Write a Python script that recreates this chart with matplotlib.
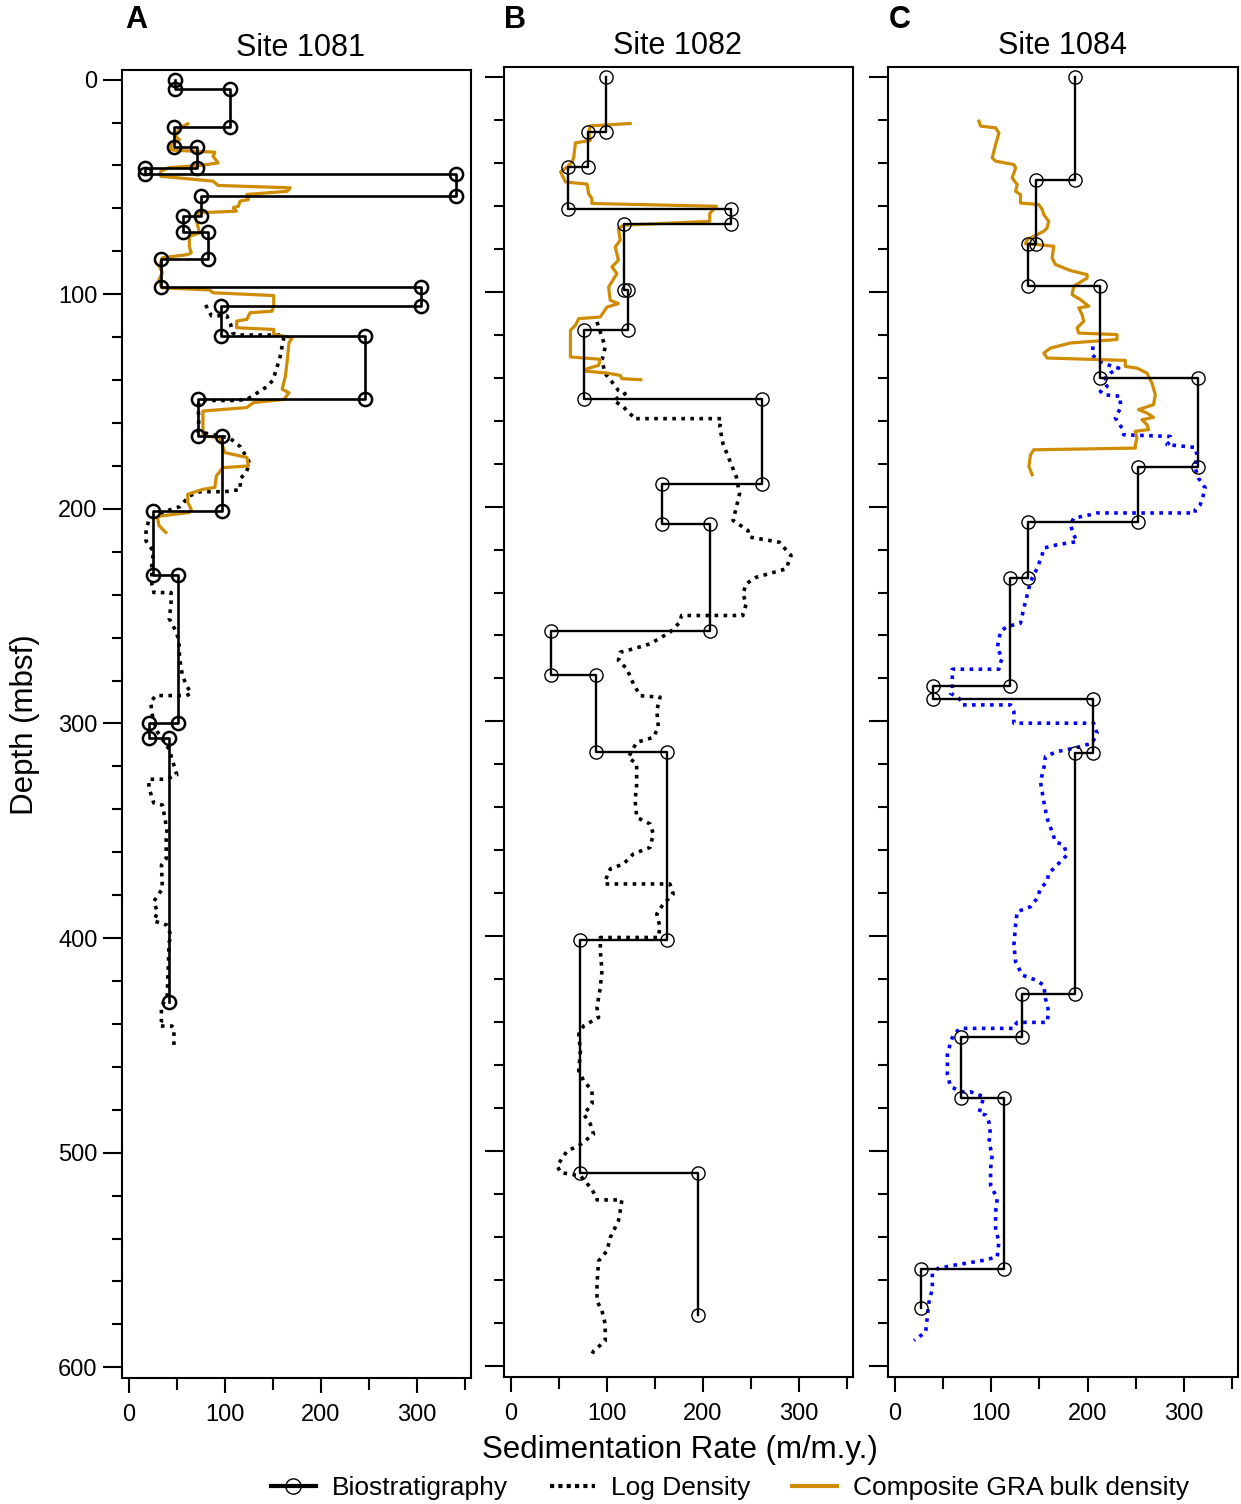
import matplotlib
matplotlib.use("Agg")
import matplotlib.pyplot as plt
from matplotlib.lines import Line2D

plt.rcParams['font.family'] = ['Liberation Sans', 'DejaVu Sans']

# ---------------- DATA ----------------
titles = ["Site 1081", "Site 1082", "Site 1084"]
letters = ["A", "B", "C"]
x_label = "Sedimentation Rate (m/m.y.)"
y_label = "Depth (mbsf)"
legend_labels = ["Biostratigraphy", "Log Density", "Composite GRA bulk density"]

# Biostratigraphy: interval boundaries (mbsf) and rate in each interval (m/m.y.)
bio_a_bounds = [0, 4.5, 22, 31.3, 41, 44, 54, 63.6, 71.2, 83.5, 96.7, 105.7, 119.6,
                149, 166.2, 201, 231, 300, 306.8, 430]
bio_a_rates = [48, 105, 47, 70.5, 16.5, 340, 75.5, 56, 82, 34, 304.5, 95.5, 245.6,
               72.3, 97, 25.6, 51, 21, 41.4]

bio_b_bounds = [0, 25.7, 42, 61.4, 68.4, 99.4, 117.7, 149.8, 189.4, 208, 258.1, 278.2,
                314, 401.5, 509.9, 576]
bio_b_rates = [99.4, 80.4, 59.7, 228.8, 117.3, 121.8, 76.6, 261.2, 157, 207, 41.4, 88.3,
               162.2, 72.5, 195]

bio_c_bounds = [0, 48.3, 77.8, 97.2, 140, 181.8, 207.3, 233.3, 283.4, 289.7, 314.5, 427,
                446.7, 475.4, 554.6, 572.7]
bio_c_rates = [187.4, 146.7, 138, 213.3, 315, 252, 138, 119.4, 39.7, 205.3, 186.6, 131.5,
               68.3, 113.2, 26.9]

# Log density derived rates
log_a_depth = [105, 110, 110, 114, 118, 119, 119, 121, 130, 140, 143, 149, 149.5, 149.5, 152,
               158, 164, 167, 171, 177, 179, 183, 186, 191, 192, 192, 194, 199, 201, 205, 210,
               215, 220, 225, 231, 235, 238, 239, 239, 245, 251, 257, 261, 270, 278, 283, 286,
               287, 287, 290, 295, 299, 304, 312, 318, 324, 326, 326, 330, 337, 338, 345, 351,
               354, 363, 366, 377, 383, 388, 392, 394, 399, 402, 415, 427, 432, 439, 441, 441,
               442, 450]
log_a_rate = [80, 86, 102, 106, 108, 112, 161, 161, 157, 150, 144, 123, 110, 74, 72,
              73, 72, 105, 116, 124, 126, 122, 116, 116, 100, 74, 63, 53, 39, 21, 18,
              18, 26, 24, 24, 24, 26, 26, 44, 44, 42, 49, 52, 53, 56, 61, 65,
              60, 28, 23, 24, 26, 30, 42, 46, 50, 39, 21, 21, 26, 35, 38, 40,
              39, 39, 34, 35, 26, 30, 26, 40, 44, 42, 41, 40, 34, 34, 32, 45,
              47, 47]

log_b_depth = [114.1, 121.1, 125.8, 132, 138.2, 142, 146, 147.5, 150.6, 153.7, 158.4, 159.1,
               159.1, 163, 170.8, 178.5, 186.3, 194, 200.3, 206.5, 211.1, 214.2, 216.6, 222,
               222.8, 229, 232.9, 235.9, 240.6, 245.3, 249.9, 250.7, 250.7, 253.8, 258.5,
               263.9, 266.2, 267.8, 271.6, 275.5, 282.5, 288, 288.7, 294.9, 302.7, 307.4,
               309.7, 316.7, 319.8, 329.1, 336.8, 344.6, 347.7, 352.3, 358.6, 361.6, 366.3,
               368.6, 374, 375.6, 375.6, 380.3, 384.9, 389.6, 395.8, 399.7, 400.5, 400.5,
               406.7, 416, 423.7, 433, 437.7, 441.6, 445.5, 453.3, 462.5, 467.2, 471.8, 478,
               482.7, 487.3, 492, 497.4, 499.8, 506.7, 509.9, 511.4, 516.8, 521.5, 522.6,
               522.6, 527.7, 532.4, 540.1, 546.3, 551, 561.8, 569.6, 574.2, 580.4, 588.2,
               592.9, 596]
log_b_rate = [89.7, 94.9, 98.3, 94.9, 98.3, 105.3, 112, 119, 107, 117.3, 127.6, 127.6,
              219, 217.4, 220.8, 227.7, 234.7, 238, 234.7, 231.2, 246.7, 248.4, 279.5, 289.9,
              291.6, 286.4, 255.4, 245, 241.5, 245, 241.5, 241.5, 177.7, 176, 165.6,
              144.9, 127.6, 113.9, 112, 120.7, 127.6, 134.6, 155.3, 151.9, 153.6, 148.3,
              131, 122.3, 131, 131, 129.4, 131, 144.9, 148.3, 144.9, 127.6, 117.3,
              103.5, 98.3, 98.3, 165.6, 169, 158.7, 151.9, 155.3, 153.6, 153.6, 93.2,
              93.2, 94.9, 93.2, 89.7, 91.4, 75.9, 70.7, 72.5, 70.7, 75.9, 84.6, 84.6,
              75.9, 82.8, 86.2, 70.7, 58.7, 48.3, 51.8, 72.5, 82.8, 89.7, 89.7,
              115.6, 113.9, 112, 103.5, 100.1, 91.4, 89.7, 89.7, 94.9, 98.3, 98.3,
              86.2, 82.8]

log_c_depth = [125.5, 129.3, 131.7, 133.2, 134.8, 135.6, 137.9, 141, 144.1, 146.4, 148, 148.7,
               154.2, 158.8, 163.5, 166.6, 167.4, 169.7, 171.2, 172.5, 175.9, 182.1, 186.8,
               191.4, 194.5, 199.2, 201.5, 203, 203, 203.8, 205.4, 208.5, 213.1, 216.3, 217.8,
               219.3, 222.4, 228.7, 234.9, 241.1, 247.3, 254.3, 255.8, 258.1, 265.9, 270.6,
               274.4, 275.7, 275.7, 278.3, 284.5, 286.9, 289.2, 291.5, 292.3, 292.3, 295.4,
               300, 300.8, 300.8, 305.5, 310.1, 312.5, 314, 316.3, 321.8, 328, 337.3, 345.1,
               351.3, 356, 357.5, 362.1, 366.8, 370.7, 374.5, 377.7, 382.3, 386.2, 388.5,
               394.7, 404, 411.8, 418, 420.3, 422.7, 428.9, 435.1, 439.7, 440, 440, 442,
               442.8, 442.8, 445.2, 449, 455.2, 464.5, 470, 472.3, 472.3, 474.6, 482.4,
               483.1, 486.2, 492.4, 495.5, 501.8, 508, 515.7, 522, 528.2, 535.9, 542.1,
               549.1, 550.7, 553, 554.6, 556.9, 563.9, 570.1, 576.3, 584.1, 588]
log_c_rate = [205.7, 204.7, 209.8, 216.7, 225.4, 232.3, 223.6, 216.7, 220.2, 213.3, 216.7, 234,
              234, 228.8, 235.7, 237.4, 285.7, 285.7, 282.3, 311.6, 313.3, 311.6, 315,
              322, 320.2, 316.8, 311.6, 311.6, 209.8, 202.9, 185.6, 182.2, 185.6, 189.1, 168.4,
              154.6, 152.9, 147.7, 140.8, 137.4, 133.9, 130.4, 116.6, 109.7, 106.3, 111.5,
              108, 108, 59.7, 59.7, 59.7, 58, 66.6, 70.1, 70.1, 120.1, 123.6,
              123.6, 123.6, 206.3, 209.8, 204.7, 185.6, 168.4, 156.3, 154.6, 151.1, 154.6, 158,
              163.2, 166.7, 175.3, 178.8, 168.4, 159.7, 158, 151.1, 147.7, 140.8, 127,
              125.3, 123.6, 125.3, 132.2, 146, 154.6, 156.3, 159.7, 158, 158, 127, 123.6,
              123.6, 68.3, 61.4, 58, 54.6, 54.6, 58, 70.1, 78.7, 92.4, 87.3,
              94.2, 97.6, 99.4, 97.6, 101.1, 99.4, 99.4, 106.3, 104.6, 104.6, 108,
              106.3, 92.4, 61.4, 44.2, 39, 39, 35.5, 33.9, 32.1, 20]

# Composite GRA bulk density derived rates
gra_a_depth = [20.6, 22.5, 26.4, 28, 30.3, 32.6, 32.9, 33.8, 35.7, 38.8, 40, 41, 42.7, 45, 47.3,
               49.3, 50.4, 52, 53.5, 55.9, 56.6, 59, 59.7, 61.3, 62, 63.6, 65.2, 68.3, 71.4, 73,
               77.6, 80.7, 81.5, 83, 86.9, 90, 93, 96.2, 97, 98, 99.3, 100.6, 105.5, 107.9,
               108.6, 111.7, 112.5, 115.6, 116.4, 118.7, 120.3, 122.6, 130.4, 138, 144.3, 145.9,
               149, 150.5, 152.8, 154.4, 166, 166.8, 173.8, 176, 180, 180.8, 184.6, 190, 190.9,
               193.2, 197, 200.2, 201.7, 203.3, 204, 207.9, 211]
gra_a_rate = [61.4, 52.6, 49, 52.6, 44, 44, 47.4, 89.5, 87.7, 93, 73.7, 42, 33.3, 33.3, 87.7,
              93, 168, 165, 122.8, 124.5, 115.8, 114, 108.7, 112, 73.7, 68.4, 70, 71.9, 73.7, 63,
              63, 65, 61.4, 35, 31.6, 35, 31.6, 33.3, 35, 84.2, 87.7, 150.8, 150.8, 149,
              126.3, 122.8, 112.3, 112.3, 150.8, 150.8, 170, 166.7, 165, 163, 159.6, 166.7,
              161.4, 129.8, 122.8, 77.2, 77.2, 94.7, 100, 122.8, 124.5, 98, 91.2, 89.5, 77.2,
              61.4, 61.4, 65, 63, 33.3, 29.8, 31.6, 38.6]

gra_b_depth = [21.8, 22.9, 25.7, 29.6, 30.8, 37.3, 39.7, 42, 44.3, 49, 50, 54.4, 56.7, 59, 60.3,
               63.7, 67.3, 69.1, 70.7, 76.1, 79.2, 85.4, 88.5, 91.6, 97.9, 104, 105.6, 107.2,
               111.8, 112.6, 115.7, 118, 130.4, 131.5, 134.3, 135.9, 137, 137.9, 139, 140.5, 141]
gra_b_rate = [124.2, 82.8, 81, 82.8, 67.3, 65.6, 63.9, 58.7, 51.8, 57, 79.4, 81, 84.4, 84.4, 214,
              207, 207, 117.3, 112, 113.9, 108.7, 112, 105.3, 110.4, 101.8, 103.5, 112, 100.1,
              93.2, 70.7, 67.3, 62.1, 62.1, 93.2, 91.4, 79.4, 77.6, 100.1, 113.9, 115.6, 135.3]

gra_c_depth = [20.7, 23, 23.8, 26.2, 31.6, 37.8, 39.3, 40.9, 42.5, 47.1, 50.2, 53.3, 54.9, 58.8,
               59.5, 61.8, 64.2, 67.3, 70.4, 71.9, 75.8, 77.8, 78.1, 78.9, 84.4, 87.4, 90.2, 92.1,
               93.7, 97.5, 101.4, 103.7, 106.8, 107.6, 110.7, 113.8, 116.9, 119.3, 120, 122.3,
               123.9, 126.3, 128.6, 130.9, 132, 134.8, 135.6, 137.9, 142.6, 148, 152.6, 154.9,
               156.5, 158.5, 159.6, 161.9, 164.2, 165, 168.2, 171.2, 172.8, 173.6, 175.9, 181.3,
               185.2]
gra_c_rate = [87.3, 89, 104.6, 108, 104.6, 101.1, 104.6, 123.6, 125.3, 121.8, 127, 125.3, 130.4,
              130.4, 149.4, 152.9, 154.6, 159.7, 158, 154.6, 137.4, 135.6, 147.7, 164.9, 163.2,
              166.7, 182.2, 199.5, 199.5, 185.6, 183.9, 192.5, 201.2, 190.8, 194.3, 196, 189.1,
              190.8, 230.5, 230.5, 182.2, 161.5, 154.6, 158, 239.1, 239.1, 251.2, 261.6, 266.8,
              270.2, 268.4, 252.9, 261.6, 268.4, 256.4, 261.6, 263.4, 249.5, 251.2, 249.5, 249.5,
              144.2, 140.8, 139.1, 142.5]

# ---------------- STYLE ----------------
ORANGE = "#D08C00"
BLUE = "#0000FF"
DOT = (0, (1, 1.5))

W, H = 1241, 1504
fig = plt.figure(figsize=(W / 100, H / 100), dpi=100)


def px_axes(l, r, t, b):
    return [l / W, 1 - b / H, (r - l) / W, (b - t) / H]


boxes = [(122, 471, 70, 1378), (504, 853, 67, 1377), (888, 1238, 67, 1377)]
title_pos = [(300, 48), (677, 46), (1063, 46)]
letter_pos = [(136, 20), (515, 20), (900, 20)]


def step_path(bounds, rates):
    xs, ys = [], []
    for i, r in enumerate(rates):
        xs += [r, r]
        ys += [bounds[i], bounds[i + 1]]
    return xs, ys


bios = [(bio_a_bounds, bio_a_rates), (bio_b_bounds, bio_b_rates), (bio_c_bounds, bio_c_rates)]
logs = [(log_a_depth, log_a_rate, 'black'), (log_b_depth, log_b_rate, 'black'),
        (log_c_depth, log_c_rate, BLUE)]
gras = [(gra_a_depth, gra_a_rate), (gra_b_depth, gra_b_rate), (gra_c_depth, gra_c_rate)]

for i in range(3):
    ax = fig.add_axes(px_axes(*boxes[i]))
    ld, lr, lc = logs[i]
    ax.plot(lr, ld, color=lc, lw=2.6, linestyle=DOT, zorder=2)
    gd, gr = gras[i]
    ax.plot(gr, gd, color=ORANGE, lw=2.3, zorder=3)
    bx, by = step_path(*bios[i])
    lw = 1.9 if i == 0 else 1.7
    mew = 1.8 if i == 0 else 1.0
    ax.plot(bx, by, color='black', lw=lw, marker='o', ms=9.5, mfc='none', mec='black',
            mew=mew, zorder=4)

    ax.set_xlim(-7, 356)
    ax.set_ylim(605, -4.5)
    ax.set_xticks([0, 100, 200, 300])
    ax.set_xticks([50, 150, 250, 350], minor=True)
    ax.set_yticks(range(0, 601, 100))
    ax.set_yticks(range(0, 601, 20), minor=True)
    ax.tick_params(axis='x', which='major', length=10.5, width=1.5, labelsize=17, pad=8,
                   direction='out')
    ax.tick_params(axis='x', which='minor', length=8.5, width=1.5, direction='out')
    ax.tick_params(axis='y', which='major', length=13.5, width=1.5, labelsize=17, pad=4,
                   direction='out')
    ax.tick_params(axis='y', which='minor', length=7, width=1.5, direction='out')
    if i > 0:
        ax.tick_params(axis='y', which='both', labelleft=False)
    for s in ax.spines.values():
        s.set_linewidth(1.5)

    fig.text(title_pos[i][0] / W, 1 - title_pos[i][1] / H, titles[i], ha='center',
             va='center', fontsize=22)
    fig.text(letter_pos[i][0] / W, 1 - letter_pos[i][1] / H, letters[i], ha='center',
             va='center', fontsize=22, fontweight='bold')

fig.text(25 / W, 1 - 725 / H, y_label, rotation=90, ha='center', va='center', fontsize=22.5)
fig.text(680 / W, 1 - 1450 / H, x_label, ha='center', va='center', fontsize=22.5)

handles = [
    Line2D([], [], color='black', lw=3, marker='o', ms=11, mfc='none', mec='black', mew=1.0),
    Line2D([], [], color='black', lw=3, linestyle=(0, (1, 1))),
    Line2D([], [], color=ORANGE, lw=3),
]
fig.legend(handles, legend_labels, loc='center', bbox_to_anchor=(730 / W, 1 - 1488 / H),
           ncol=3, frameon=False, fontsize=19, handlelength=1.7, handletextpad=0.6,
           columnspacing=1.6, numpoints=1)

fig.savefig("out.png", dpi=100)
